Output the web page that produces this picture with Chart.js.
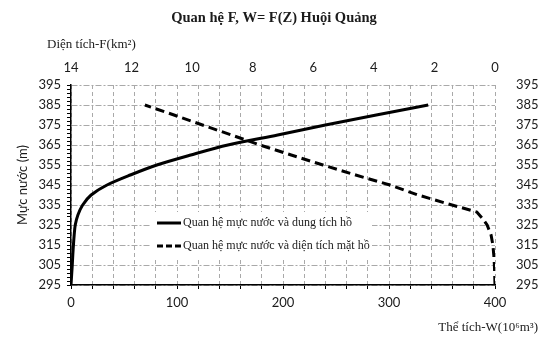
<!DOCTYPE html>
<html><head><meta charset="utf-8">
<script src="https://cdn.jsdelivr.net/npm/chart.js@4.4.1/dist/chart.umd.min.js"></script>
<style>html,body{margin:0;padding:0;background:#fff}#wrap{width:560px;height:358px;position:relative}</style>
</head><body><div id="wrap"><canvas id="c"></canvas></div>
<script>
// Water level Z (m) vs volume W (10^6 m3)
const volumeLevels = [295,300,305,310,315,320,325,330,335,340,345,350,355,360,365,370,375,380,385];
const volumeValues = [0,0.6,1.2,1.7,2.3,3,4,6.5,11,19,34,56,81,113,148,195,240,288,337];
// Water level Z (m) vs surface area F (km2)
const areaLevels = [295,300,305,310,315,320,325,328,331.5,335,340,345,350,355,360,365,370,375,380,385];
const areaValues = [0,0.01,0.02,0.04,0.07,0.13,0.26,0.4,0.6,1.42,2.54,3.47,4.6,5.68,6.73,7.76,8.7,9.66,10.6,11.56];

const seriesLabels = ['Quan hệ mực nước và dung tích hồ', 'Quan hệ mực nước và diện tích mặt hồ'];
const chartTitle = 'Quan hệ F, W= F(Z) Huội Quảng';
const levelAxisTitle = 'Mực nước (m)';
const areaAxisTitle = 'Diện tích-F(km²)';
const volumeAxisTitle = 'Thể tích-W(10⁶m³)';

const SERIF = "'Liberation Serif', 'DejaVu Serif', serif";
const SANS = "Lato, 'Liberation Sans', sans-serif";
const TXT = '#1b1b1b';

const volumeData = volumeLevels.map((z, i) => ({x: volumeValues[i], y: z}));
const areaData = areaLevels.map((z, i) => ({x: areaValues[i], y: z}));

const textPlugin = {
  id: 'texts',
  beforeDraw(chart) {
    const {ctx, width, height} = chart;
    ctx.save();
    ctx.fillStyle = '#fff';
    ctx.fillRect(0, 0, width, height);
    ctx.restore();
  },
  afterDraw(chart) {
    const {ctx, chartArea: a} = chart;
    ctx.save();
    ctx.fillStyle = TXT;
    ctx.textBaseline = 'middle';
    ctx.font = "bold 14.5px " + SERIF;
    ctx.textAlign = 'center';
    ctx.fillText(chartTitle, 274, 18);
    ctx.font = "13px " + SERIF;
    ctx.textAlign = 'left';
    ctx.fillText(areaAxisTitle, a.left - 24, 45);
    ctx.textAlign = 'right';
    ctx.fillText(volumeAxisTitle, a.right + 43, 328);
    ctx.restore();
  }
};

const legendPlugin = {
  id: 'innerLegend',
  afterDatasetsDraw(chart) {
    const {ctx, chartArea: a} = chart;
    const x0 = a.left + 79, y0 = a.top + 127;
    ctx.save();
    ctx.fillStyle = '#fff';
    ctx.fillRect(x0, y0, 222, 46);
    chart.data.datasets.forEach((ds, i) => {
      const y = y0 + 11 + i * 23;
      ctx.strokeStyle = ds.borderColor;
      ctx.lineWidth = 3;
      ctx.setLineDash(ds.borderDash ? [6, 3] : []);
      ctx.beginPath();
      ctx.moveTo(x0 + 7, y);
      ctx.lineTo(x0 + 31, y);
      ctx.stroke();
      ctx.setLineDash([]);
      ctx.fillStyle = TXT;
      ctx.font = "12px " + SERIF;
      ctx.textAlign = 'left';
      ctx.textBaseline = 'middle';
      ctx.fillText(ds.label, x0 + 33, y);
    });
    ctx.restore();
  }
};

const gridGrey = '#a9a9a9';

new Chart(document.getElementById('c'), {
  type: 'line',
  data: {
    datasets: [
      {label: seriesLabels[0], data: volumeData, xAxisID: 'xW', yAxisID: 'y',
       borderColor: '#000', borderWidth: 3, pointRadius: 0, tension: 0.3, fill: false},
      {label: seriesLabels[1], data: areaData, xAxisID: 'xF', yAxisID: 'y',
       borderColor: '#000', borderWidth: 3, borderDash: [9, 5], pointRadius: 0, tension: 0, fill: false}
    ]
  },
  options: {
    responsive: true,
    maintainAspectRatio: false,
    animation: false,
    layout: {padding: 0},
    plugins: {legend: {display: false}, title: {display: false}, tooltip: {enabled: false}},
    scales: {
      xW: {
        type: 'linear', position: 'bottom', min: 0, max: 400,
        afterFit: s => { s.height = 73; },
        ticks: {stepSize: 20, autoSkip: false, maxRotation: 0, padding: 6, color: TXT,
                font: {family: SANS, size: 13},
                callback: v => (v % 100 === 0 ? String(v) : '')},
        grid: {color: gridGrey, tickColor: '#000', tickLength: 4, lineWidth: 1},
        border: {display: true, color: '#000', width: 1.5, dash: [4, 3]}
      },
      xF: {
        type: 'linear', position: 'top', min: 0, max: 14, reverse: true,
        afterFit: s => { s.height = 85; },
        ticks: {stepSize: 2, autoSkip: false, maxRotation: 0, padding: 1, color: TXT,
                font: {family: SANS, size: 13}},
        grid: {display: false},
        border: {display: false}
      },
      y: {
        type: 'linear', position: 'left', min: 295, max: 395,
        afterFit: s => { s.width = 71; },
        ticks: {stepSize: 2, autoSkip: false, padding: 6, color: TXT,
                font: {family: SANS, size: 13},
                callback: v => ((v - 295) % 10 === 0 ? String(v) : '')},
        grid: {
          color: c => (c.tick && (c.tick.value - 295) % 10 === 0) ? gridGrey : 'rgba(0,0,0,0)',
          tickColor: '#000', tickLength: 4, lineWidth: 1
        },
        border: {display: true, color: '#000', width: 1.5, dash: [6, 2, 2, 2]},
        title: {display: true, text: levelAxisTitle, color: TXT, font: {family: SANS, size: 13},
                padding: {top: 15, bottom: 0}}
      },
      y2: {
        type: 'linear', position: 'right', min: 295, max: 395,
        afterFit: s => { s.width = 65; },
        ticks: {stepSize: 10, padding: 13, color: TXT, font: {family: SANS, size: 13}},
        grid: {display: false},
        border: {display: false}
      }
    }
  },
  plugins: [textPlugin, legendPlugin]
});
</script>
</body></html>
